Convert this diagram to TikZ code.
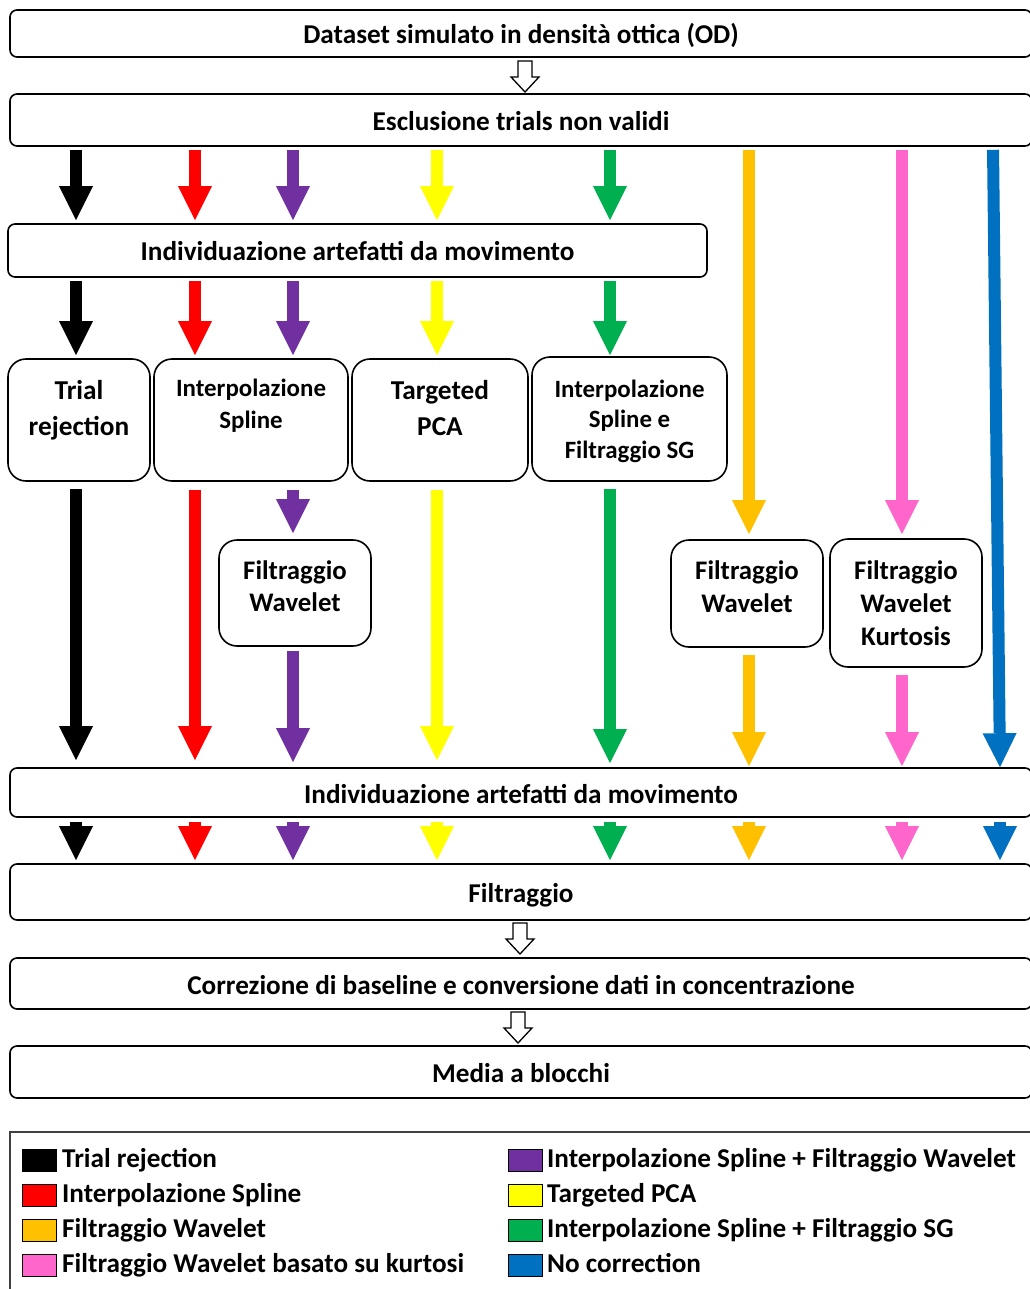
\documentclass[tikz,border=0pt]{standalone}
\usepackage{fontspec}
\setmainfont{Carlito}
\usetikzlibrary{arrows.meta}
\definecolor{cK}{HTML}{000000}
\definecolor{cR}{HTML}{FF0000}
\definecolor{cP}{HTML}{7030A0}
\definecolor{cY}{HTML}{FFFF00}
\definecolor{cG}{HTML}{00B050}
\definecolor{cO}{HTML}{FFC000}
\definecolor{cPk}{HTML}{FF66CC}
\definecolor{cB}{HTML}{0070C0}
\tikzset{
  mainbox/.style={draw, line width=1.6pt, rounded corners=7pt, inner sep=0pt,
    minimum width=1022pt, text height=21pt, text depth=0pt,
    font=\fontsize{27.2}{30}\selectfont\bfseries},
  midbox/.style={draw, line width=1.6pt, rounded corners=18pt, inner sep=0pt},
  tA/.style={anchor=base, inner sep=0pt, font=\fontsize{27.3}{30}\selectfont\bfseries},
  tB/.style={anchor=base, inner sep=0pt, font=\fontsize{24.9}{30}\selectfont\bfseries},
  tC/.style={anchor=base, inner sep=0pt, font=\fontsize{26.8}{30}\selectfont\bfseries},
  blk/.style={draw=#1, line width=12pt,
    -{Triangle[width=34pt,length=34pt,line width=0pt]}},
  hollow/.pic={\draw[line width=1.3pt, fill=white, line join=miter]
    (-7,0) -- (7,0) -- (7,16) -- (14,16) -- (0,31) -- (-14,16) -- (-7,16) -- cycle;},
  swatch/.style={draw, line width=1pt, minimum width=34pt, minimum height=22pt, inner sep=0pt},
  legtxt/.style={anchor=base west, inner sep=0pt, font=\fontsize{27.2}{30}\selectfont\bfseries}
}
\begin{document}
\begin{tikzpicture}[x=1pt,y=-1pt]
\useasboundingbox (0,0) rectangle (1029,1289);
% column coordinates
\coordinate (kK) at (76,0);
\coordinate (kR) at (195,0);
\coordinate (kP) at (293,0);
\coordinate (kY) at (437,0);
\coordinate (kG) at (610,0);
\coordinate (kO) at (749,0);
\coordinate (kPk) at (902,0);
\coordinate (kB1) at (993,0);
\coordinate (kB2) at (1000,0);

% main boxes
\node[mainbox, minimum height=47pt] (A) at (521,33.5) {Dataset simulato in densità ottica (OD)};
\node[mainbox, minimum height=52pt] (B) at (521,120) {Esclusione trials non validi};
\node[mainbox, minimum width=699pt, minimum height=53pt] (C) at (357.5,250.5) {Individuazione artefatti da movimento};
\node[mainbox, minimum height=49pt] (D) at (521,792.5) {Individuazione artefatti da movimento};
\node[mainbox, minimum height=56pt] (E) at (521,892) {Filtraggio};
\node[mainbox, minimum height=51pt] (F) at (521,983.5) {Correzione di baseline e conversione dati in concentrazione};
\node[mainbox, minimum height=52pt] (G) at (521,1072) {Media a blocchi};

% hollow arrows
\pic at (525,61) {hollow};
\pic at (520,923) {hollow};
\pic at (518,1012) {hollow};

% method boxes
\node[midbox, minimum width=142pt, minimum height=122pt] (TR) at (79,420) {};
\node[midbox, minimum width=194pt, minimum height=122pt] (IS) at (251,420) {};
\node[midbox, minimum width=176pt, minimum height=122pt] (TP) at (440,420) {};
\node[midbox, minimum width=195pt, minimum height=124pt] (SG) at (629.5,419) {};
\node[midbox, minimum width=152pt, minimum height=106pt] (FW1) at (295,593) {};
\node[midbox, minimum width=152pt, minimum height=107pt] (FW2) at (747,593.5) {};
\node[midbox, minimum width=152pt, minimum height=128pt] (FWK) at (906,603) {};

\node[tA] (TRa) at (79,399.3) {Trial};
\node[tA] (TRb) at (79,435) {rejection};
\node[tB] (ISa) at (251,396.7) {Interpolazione};
\node[tB] (ISb) at (251,428.3) {Spline};
\node[tA] (TPa) at (440,399.3) {Targeted};
\node[tA] (TPb) at (440,435) {PCA};
\node[tB] (SGa) at (629.5,397) {Interpolazione};
\node[tB] (SGb) at (629.5,427.5) {Spline e};
\node[tB] (SGc) at (629.5,458) {Filtraggio SG};
\node[tC] (FW1a) at (295,579) {Filtraggio};
\node[tC] (FW1b) at (295,611.7) {Wavelet};
\node[tC] (FW2a) at (747,579.5) {Filtraggio};
\node[tC] (FW2b) at (747,612) {Wavelet};
\node[tC] (FWKa) at (906,579) {Filtraggio};
\node[tC] (FWKb) at (906,612) {Wavelet};
\node[tC] (FWKc) at (906,645) {Kurtosis};

% row 1: B -> C
\foreach \k/\c in {kK/cK,kR/cR,kP/cP,kY/cY,kG/cG}
  \draw[blk=\c, shorten <=3pt, shorten >=3pt] (B.south -| \k) -- (C.north -| \k);
% row 2: C -> method boxes
\draw[blk=cK, shorten <=3pt, shorten >=3pt] (C.south -| kK) -- (TR.north -| kK);
\draw[blk=cR, shorten <=3pt, shorten >=3pt] (C.south -| kR) -- (IS.north -| kR);
\draw[blk=cP, shorten <=3pt, shorten >=3pt] (C.south -| kP) -- (IS.north -| kP);
\draw[blk=cY, shorten <=3pt, shorten >=3pt] (C.south -| kY) -- (TP.north -| kY);
\draw[blk=cG, shorten <=3pt, shorten >=1pt] (C.south -| kG) -- (SG.north -| kG);
% long ones from B
\draw[blk=cO, shorten <=3pt, shorten >=5pt] (B.south -| kO) -- (FW2.north -| kO);
\draw[blk=cPk, shorten <=3pt, shorten >=4pt] (B.south -| kPk) -- (FWK.north -| kPk);
\draw[blk=cB, shorten <=3pt, shorten >=0pt] (B.south -| kB1) -- (D.north -| kB2);
% lower section
\draw[blk=cK, shorten <=7pt, shorten >=7pt] (TR.south -| kK) -- (D.north -| kK);
\draw[blk=cR, shorten <=8pt, shorten >=7pt] (IS.south -| kR) -- (D.north -| kR);
\draw[blk=cP, shorten <=8pt, shorten >=6pt] (IS.south -| kP) -- (FW1.north -| kP);
\draw[blk=cP, shorten <=4pt, shorten >=5pt] (FW1.south -| kP) -- (D.north -| kP);
\draw[blk=cY, shorten <=8pt, shorten >=7pt] (TP.south -| kY) -- (D.north -| kY);
\draw[blk=cG, shorten <=7pt, shorten >=4pt] (SG.south -| kG) -- (D.north -| kG);
\draw[blk=cO, shorten <=7pt, shorten >=1pt] (FW2.south -| kO) -- (D.north -| kO);
\draw[blk=cPk, shorten <=7pt, shorten >=1pt] (FWK.south -| kPk) -- (D.north -| kPk);
% row 3: D -> E
\foreach \k/\c in {kK/cK,kR/cR,kP/cP,kY/cY,kG/cG,kO/cO,kPk/cPk,kB2/cB}
  \draw[blk=\c, shorten <=4pt, shorten >=3pt] (D.south -| \k) -- (E.north -| \k);

% legend
\draw[line width=1.5pt, draw=black!75] (10,1132) rectangle (1045,1300);
\node[swatch, fill=cK] (l1) at (39,1160) {};
\node[swatch, fill=cR] (l2) at (39,1195) {};
\node[swatch, fill=cO] (l3) at (39,1230) {};
\node[swatch, fill=cPk] (l4) at (39,1265) {};
\node[swatch, fill=cP] (l5) at (525,1160) {};
\node[swatch, fill=cY] (l6) at (525,1195) {};
\node[swatch, fill=cG] (l7) at (525,1230) {};
\node[swatch, fill=cB] (l8) at (525,1265) {};
\node[legtxt] (t1) at (62,1167) {Trial rejection};
\node[legtxt] (t2) at (62,1202.5) {Interpolazione Spline};
\node[legtxt] (t3) at (62,1237.5) {Filtraggio Wavelet};
\node[legtxt] (t4) at (62,1272.5) {Filtraggio Wavelet basato su kurtosi};
\node[legtxt] (t5) at (547,1167) {Interpolazione Spline + Filtraggio Wavelet};
\node[legtxt] (t6) at (547,1202.5) {Targeted PCA};
\node[legtxt] (t7) at (547,1237.5) {Interpolazione Spline + Filtraggio SG};
\node[legtxt] (t8) at (547,1272.5) {No correction};
\end{tikzpicture}
\end{document}
